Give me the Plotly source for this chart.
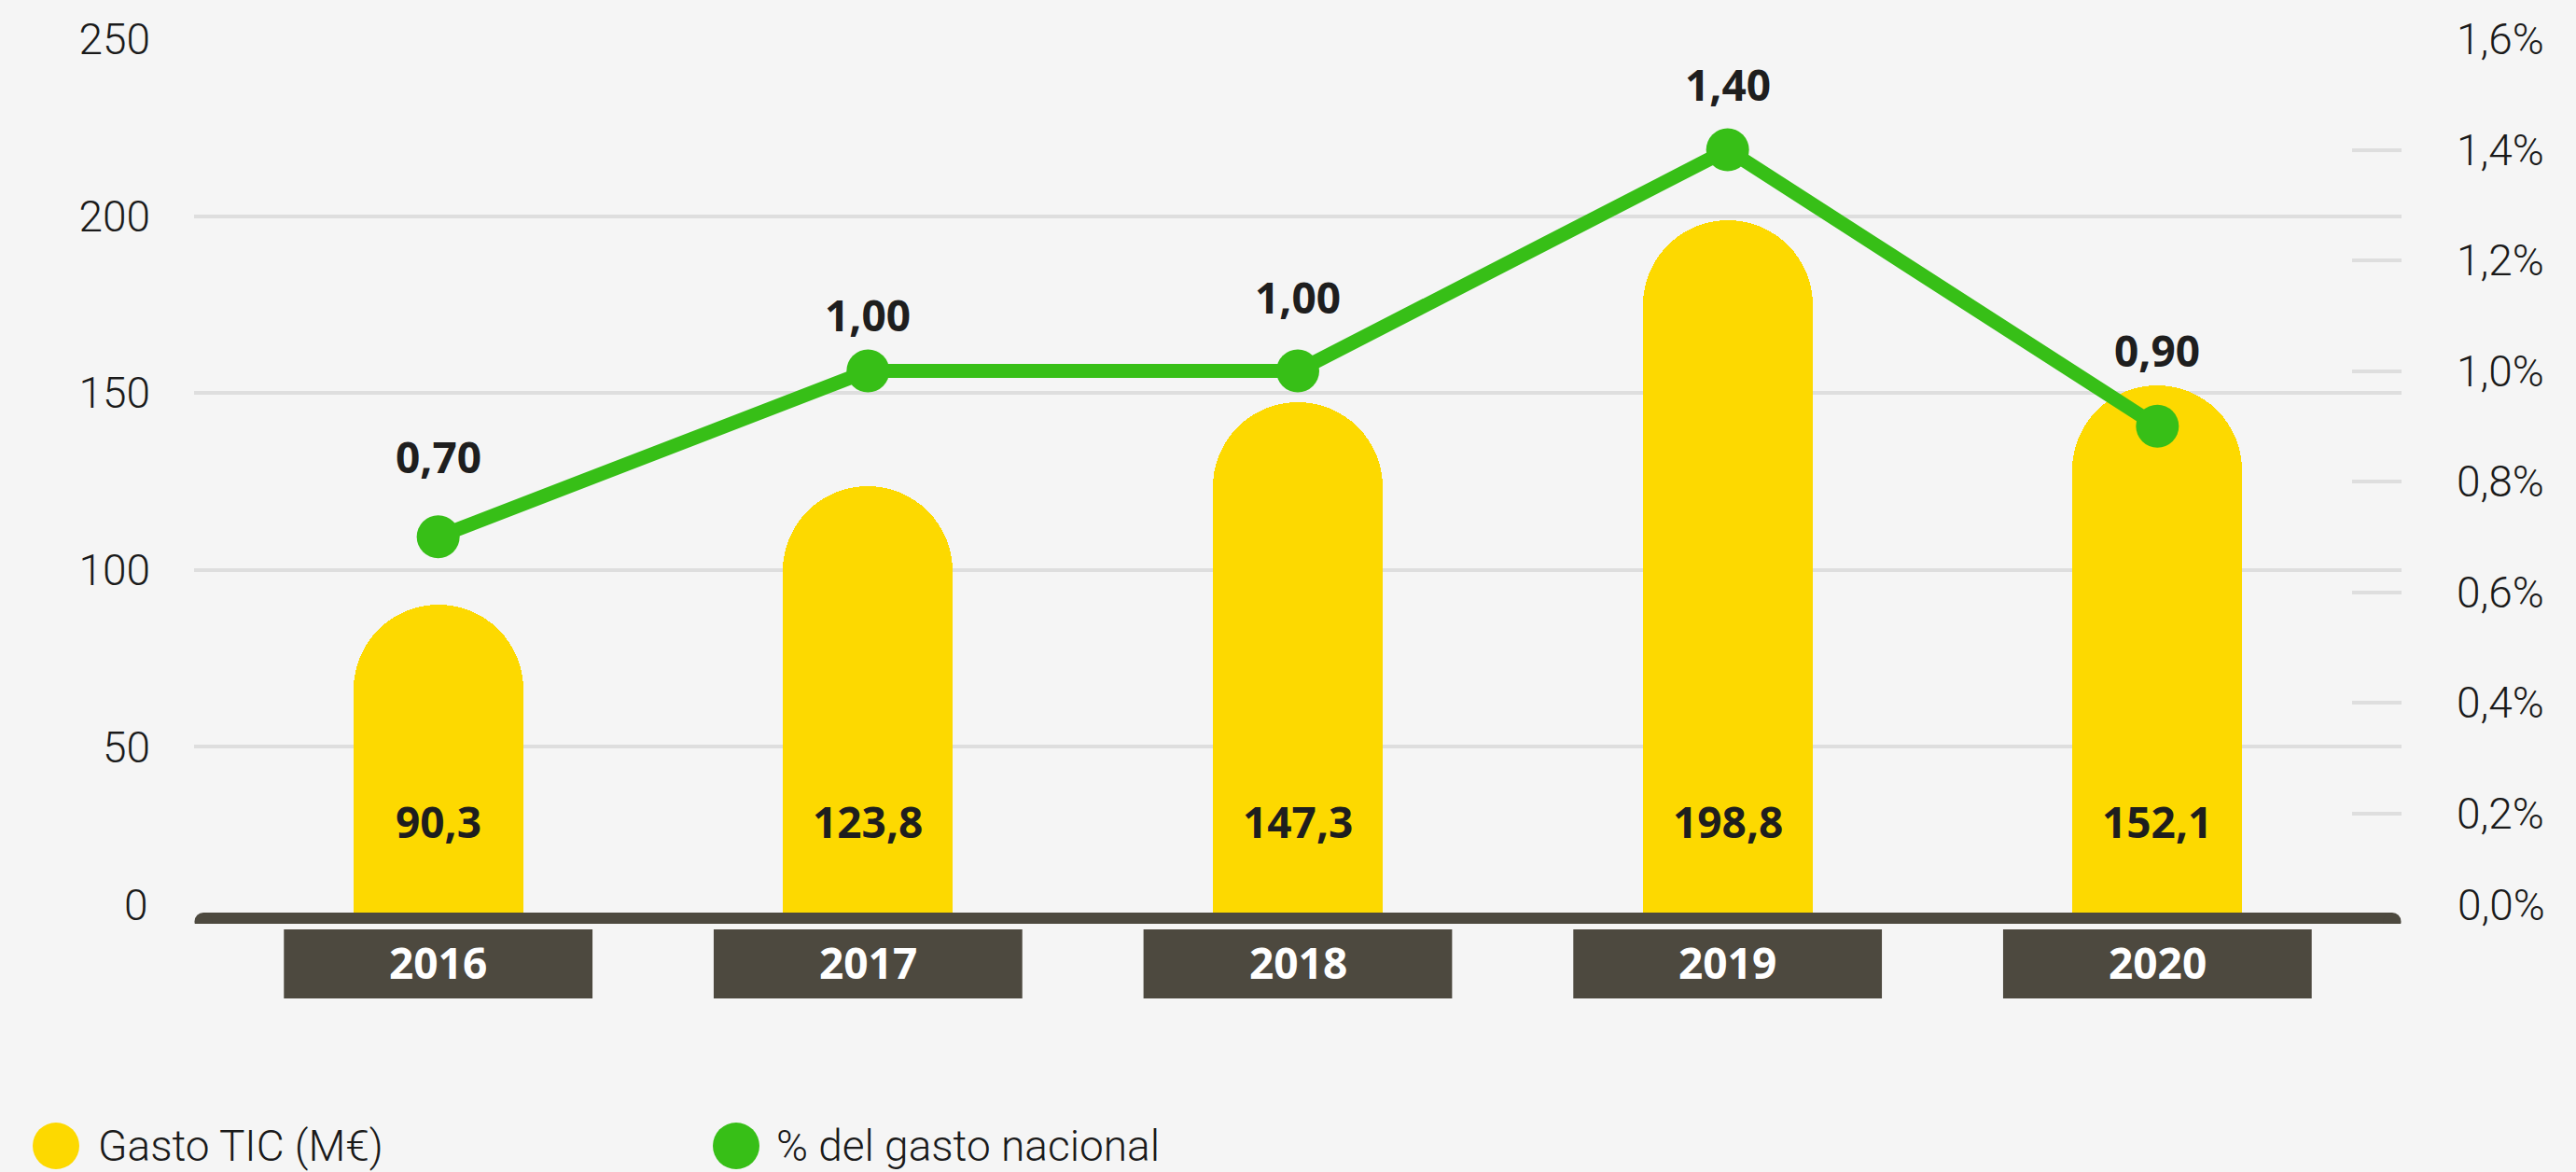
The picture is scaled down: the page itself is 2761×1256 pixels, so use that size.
import plotly.graph_objects as go

# Data
years = ["2016", "2017", "2018", "2019", "2020"]
gasto_tic = [90.3, 123.8, 147.3, 198.8, 152.1]          # M€
pct_nacional = [0.70, 1.00, 1.00, 1.40, 0.90]           # %
label_lift = [86, 61, 80, 71, 82]                       # px above each point
left_ticks = [0, 50, 100, 150, 200, 250]
right_ticks = [0.0, 0.2, 0.4, 0.6, 0.8, 1.0, 1.2, 1.4, 1.6]

YELLOW = "#FDD900"
GREEN = "#37BF17"
DARK = "#4D493F"
GRID = "#DEDEDE"
BG = "#F5F5F5"
TXT = "#1E1E1E"

W, H = 2761, 1256
ML, MR, MT, MB = 208, 187, 42, 266
PW, PH = W - ML - MR, H - MT - MB

def px_x(px):
    return (px - ML) / PW

def px_y(py):
    return (H - MB - py) / PH

def fmt(v, d):
    return f"{v:.{d}f}".replace(".", ",")

xs = list(range(len(years)))

fig = go.Figure()

fig.add_trace(go.Bar(
    x=xs, y=gasto_tic, width=0.395,
    marker=dict(color=YELLOW, cornerradius="50%", line=dict(width=0)),
    name="Gasto TIC (M€)", hoverinfo="skip", showlegend=False,
))

fig.add_trace(go.Scatter(
    x=xs, y=pct_nacional, yaxis="y2", mode="lines+markers",
    line=dict(color=GREEN, width=15),
    marker=dict(color=GREEN, size=46),
    name="% del gasto nacional", hoverinfo="skip", showlegend=False,
    cliponaxis=False,
))

bold = dict(family="Open Sans, Lato, sans-serif", size=46, color=TXT, weight=700)
thin = dict(family="Roboto, sans-serif", size=46, color="#1A1A1A", weight=300)

annotations = []
# values inside the bars
for x, v in zip(xs, gasto_tic):
    annotations.append(dict(x=x, y=0, xref="x", yref="y", yshift=110,
                            yanchor="middle",
                            text=fmt(v, 1), showarrow=False, font=bold))
# values above the line points
for x, v, lift in zip(xs, pct_nacional, label_lift):
    annotations.append(dict(x=x, y=v, xref="x", yref="y2", yshift=lift,
                            yanchor="middle",
                            text=fmt(v, 2), showarrow=False, font=bold))
# year labels in the dark boxes
for x, yr in zip(xs, years):
    annotations.append(dict(x=x, y=px_y(1031), xref="x", yref="paper",
                            yanchor="middle",
                            text=yr, showarrow=False,
                            font=dict(bold, color="white")))
# zero labels sit slightly above the baseline
annotations.append(dict(x=px_x(161), y=0, xref="paper", yref="y", yshift=20,
                        xanchor="right", yanchor="middle",
                        text="0", showarrow=False, font=thin))
annotations.append(dict(x=px_x(2632), y=0, xref="paper", yref="y", yshift=20,
                        xanchor="left", yanchor="middle",
                        text=fmt(0, 1) + "%", showarrow=False, font=thin))

shapes = []
# year boxes
for x in xs:
    shapes.append(dict(type="rect", xref="x", yref="paper",
                       x0=x - 0.359, x1=x + 0.359,
                       y0=px_y(1070), y1=px_y(996),
                       fillcolor=DARK, line=dict(width=0), layer="above"))
# baseline with rounded ends
shapes.append(dict(type="rect", xref="paper", yref="y", ysizemode="pixel",
                   yanchor=0, y0=-7, y1=12,
                   x0=px_x(218), x1=px_x(2564),
                   fillcolor=DARK, line=dict(width=0), layer="above"))
for cx in (218, 2564):
    shapes.append(dict(type="circle", xref="paper", yref="y",
                       xsizemode="pixel", ysizemode="pixel",
                       xanchor=px_x(cx), yanchor=0,
                       x0=-9.5, x1=9.5, y0=-7, y1=12,
                       fillcolor=DARK, line=dict(width=0), layer="above"))

# legend
legend_items = [("Gasto TIC (M€)", YELLOW, 60, 103),
                ("% del gasto nacional", GREEN, 789, 830)]
for text, color, cx, tx in legend_items:
    shapes.append(dict(type="circle", xref="paper", yref="paper",
                       xsizemode="pixel", ysizemode="pixel",
                       xanchor=px_x(cx), yanchor=px_y(1228),
                       x0=-25, x1=25, y0=-25, y1=25,
                       fillcolor=color, line=dict(width=0)))
    annotations.append(dict(x=px_x(tx), y=px_y(1228), xref="paper", yref="paper",
                            xanchor="left", yanchor="middle", text=text,
                            showarrow=False, font=thin))

fig.update_layout(
    width=W, height=H,
    margin=dict(l=ML, r=MR, t=MT, b=MB, pad=0),
    paper_bgcolor=BG, plot_bgcolor=BG,
    separators=",.",
    showlegend=False,
    xaxis=dict(range=[-0.568, 4.568], showticklabels=False, showgrid=False,
               zeroline=False, showline=False, ticks=""),
    yaxis=dict(range=[0, 250], tickvals=left_ticks,
               ticktext=["" if t == 0 else str(t) for t in left_ticks],
               showgrid=True, gridcolor=GRID, gridwidth=4,
               zeroline=False, showline=False, ticks="",
               ticklabelstandoff=46, tickfont=thin),
    yaxis2=dict(range=[0, 1.6], overlaying="y", side="right",
                tickvals=right_ticks,
                ticktext=["" if t == 0 else fmt(t, 1) + "%" for t in right_ticks],
                showgrid=False, zeroline=False, showline=False,
                ticks="inside", ticklen=53, tickwidth=4, tickcolor=GRID,
                ticklabelstandoff=58, tickfont=thin),
    annotations=annotations,
    shapes=shapes,
    bargap=0,
)

fig.write_html("out.html")
